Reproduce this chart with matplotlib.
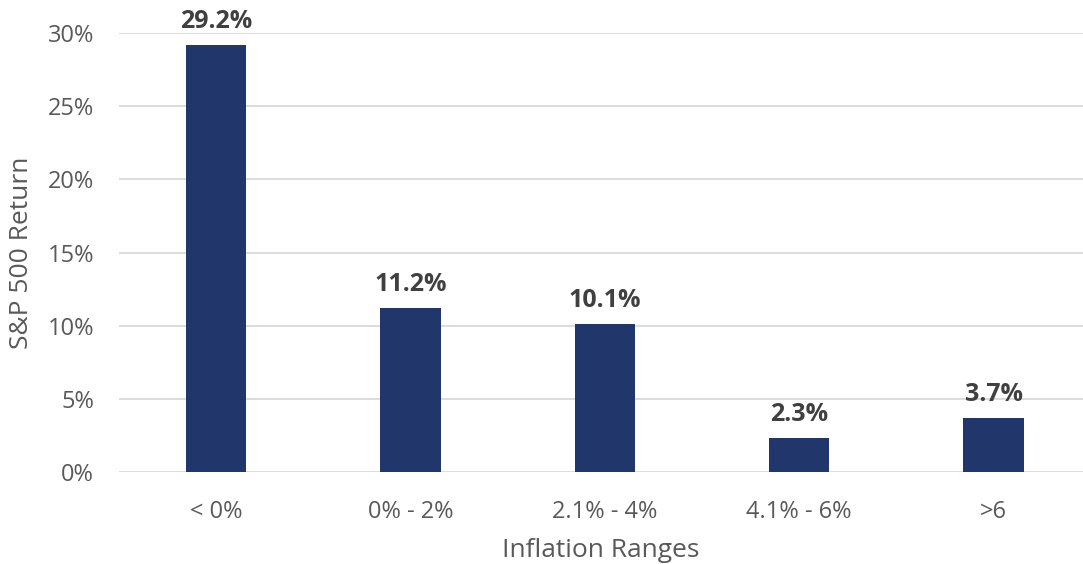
import matplotlib
matplotlib.use('Agg')
import matplotlib.pyplot as plt
import numpy as np

categories = ["< 0%", "0% - 2%", "2.1% - 4%", "4.1% - 6%", ">6"]
returns = [29.2, 11.2, 10.1, 2.3, 3.7]
yticks = [0, 5, 10, 15, 20, 25, 30]

plt.rcParams['font.family'] = ['Open Sans', 'DejaVu Sans']

fig = plt.figure(figsize=(10.83, 5.64), dpi=100)
ax = fig.add_axes([0.1099, 0.163, 0.8901, 0.7785])

x = np.arange(len(categories))
ax.bar(x, returns, width=0.31, color="#21366B", zorder=3)

for xi, v in zip(x, returns):
    ax.annotate(f"{v:.1f}%", xy=(xi, v), xytext=(0, 8), textcoords='offset points',
                ha='center', va='bottom', fontsize=18, fontweight='bold', color="#404040")

ax.set_ylim(0, 30)
ax.set_xlim(-0.5, 4.46)
ax.set_yticks(yticks)
ax.set_yticklabels([f"{t}%" for t in yticks])
ax.set_xticks(x)
ax.set_xticklabels(categories)
ax.grid(axis='y', color="#D9D9D9", linewidth=1.3, zorder=0)
for s in ax.spines.values():
    s.set_visible(False)
ax.tick_params(axis='both', length=0, labelsize=17, labelcolor="#595959")
ax.tick_params(axis='x', pad=20)
ax.tick_params(axis='y', pad=18)

ax.set_xlabel("Inflation Ranges", fontsize=19, color="#595959", labelpad=10)
ax.set_ylabel("S&P 500 Return", fontsize=19, color="#595959", labelpad=10)

fig.savefig("out.png", dpi=100)
